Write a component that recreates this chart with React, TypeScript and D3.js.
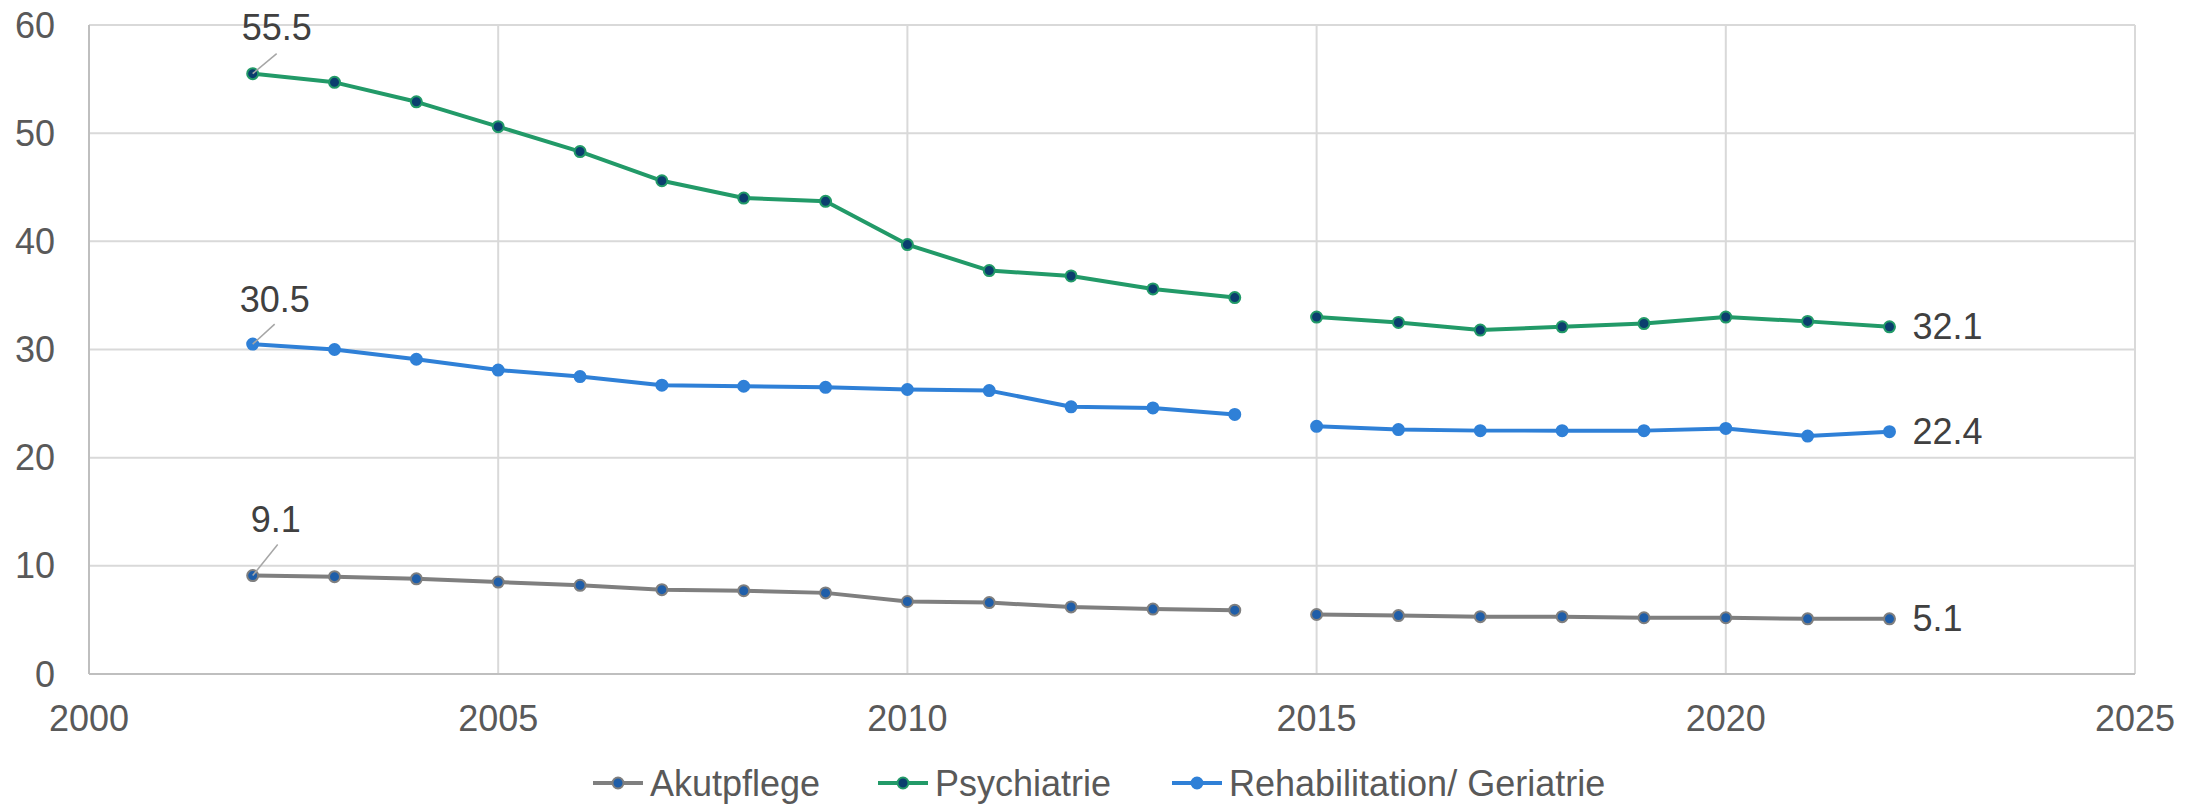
import React from "react";
import * as d3 from "d3";

const years = [2002, 2003, 2004, 2005, 2006, 2007, 2008, 2009, 2010, 2011, 2012, 2013, 2014, 2015, 2016, 2017, 2018, 2019, 2020, 2021, 2022];
const akutpflege = [9.1, 9.0, 8.8, 8.5, 8.2, 7.8, 7.7, 7.5, 6.7, 6.6, 6.2, 6.0, 5.9, 5.5, 5.4, 5.3, 5.3, 5.2, 5.2, 5.1, 5.1];
const psychiatrie = [55.5, 54.7, 52.9, 50.6, 48.3, 45.6, 44.0, 43.7, 39.7, 37.3, 36.8, 35.6, 34.8, 33.0, 32.5, 31.8, 32.1, 32.4, 33.0, 32.6, 32.1];
const rehabilitation = [30.5, 30.0, 29.1, 28.1, 27.5, 26.7, 26.6, 26.5, 26.3, 26.2, 24.7, 24.6, 24.0, 22.9, 22.6, 22.5, 22.5, 22.5, 22.7, 22.0, 22.4];
const seriesNames = ["Akutpflege", "Psychiatrie", "Rehabilitation/ Geriatrie"];
const breakAfterYear = 2014;
const xTicks = [2000, 2005, 2010, 2015, 2020, 2025];
const yTicks = [0, 10, 20, 30, 40, 50, 60];

const W = 2203;
const H = 805;
const FONT = "'Liberation Sans', Arial, Helvetica, sans-serif";

const styles = [
  { line: "#7f7f7f", fill: "#1f5ea9", stroke: "#7f7f7f" },
  { line: "#229a68", fill: "#0b3e6e", stroke: "#229a68" },
  { line: "#2f80d7", fill: "#2f80d7", stroke: "#2f80d7" },
];

// label offsets relative to first point: [leaderDx, leaderDy, labelCx, labelCy]
const firstLabelLayout = [
  [25, -31, 23, -56],
  [24, -20, 24, -46],
  [22, -20, 22, -45],
];
const legendLayout = [618, 903, 1197];

export default function App() {
  const x = d3.scaleLinear().domain([2000, 2025]).range([89, 2135]);
  const y = d3.scaleLinear().domain([0, 60]).range([674, 25]);
  const data = [akutpflege, psychiatrie, rehabilitation];

  const line = d3
    .line<number>()
    .defined((_, i) => true)
    .x((_, i) => x(years[i]))
    .y((v) => y(v));

  const segIdx = years.findIndex((yr) => yr > breakAfterYear);

  return (
    <svg width={W} height={H} style={{ position: "absolute", left: 0, top: 0, background: "#fff" }} fontFamily={FONT}>
      <rect x={0} y={0} width={W} height={H} fill="#fff" />
      {/* grid */}
      {yTicks.map((t) => (
        <line key={"gy" + t} x1={x(2000)} x2={x(2025)} y1={y(t)} y2={y(t)} stroke="#d9d9d9" strokeWidth={2} />
      ))}
      {xTicks.map((t) => (
        <line key={"gx" + t} x1={x(t)} x2={x(t)} y1={y(0)} y2={y(60)} stroke="#d9d9d9" strokeWidth={2} />
      ))}
      <line x1={x(2000)} x2={x(2000)} y1={y(0)} y2={y(60)} stroke="#bfbfbf" strokeWidth={2} />
      <line x1={x(2000)} x2={x(2025)} y1={y(0)} y2={y(0)} stroke="#bfbfbf" strokeWidth={2} />
      {/* y tick labels */}
      {yTicks.map((t) => (
        <text key={"ty" + t} x={55} y={y(t)} dy="0.35em" textAnchor="end" fontSize={36} fill="#595959">
          {t}
        </text>
      ))}
      {xTicks.map((t) => (
        <text key={"tx" + t} x={x(t)} y={731} textAnchor="middle" fontSize={36} fill="#595959">
          {t}
        </text>
      ))}
      {/* series */}
      {data.map((vals, s) => {
        const a = vals.slice(0, segIdx);
        const b = vals.slice(segIdx);
        const lineA = d3.line<number>().x((_, i) => x(years[i])).y((v) => y(v));
        const lineB = d3.line<number>().x((_, i) => x(years[i + segIdx])).y((v) => y(v));
        return (
          <g key={"s" + s}>
            <path d={lineA(a) || ""} fill="none" stroke={styles[s].line} strokeWidth={4} strokeLinejoin="round" />
            <path d={lineB(b) || ""} fill="none" stroke={styles[s].line} strokeWidth={4} strokeLinejoin="round" />
            {vals.map((v, i) => (
              <circle key={i} cx={x(years[i])} cy={y(v)} r={5.5} fill={styles[s].fill} stroke={styles[s].stroke} strokeWidth={2} />
            ))}
          </g>
        );
      })}
      {/* data labels */}
      {data.map((vals, s) => {
        const px = x(years[0]);
        const py = y(vals[0]);
        const L = firstLabelLayout[s];
        const last = vals.length - 1;
        return (
          <g key={"l" + s}>
            <line x1={px} y1={py} x2={px + L[0]} y2={py + L[1]} stroke="#a6a6a6" strokeWidth={1.5} />
            <text x={px + L[2]} y={py + L[3]} dy="0.35em" textAnchor="middle" fontSize={36} fill="#404040">
              {vals[0].toFixed(1)}
            </text>
            <text x={x(years[last]) + 23} y={y(vals[last])} dy="0.35em" textAnchor="start" fontSize={36} fill="#404040">
              {vals[last].toFixed(1)}
            </text>
          </g>
        );
      })}
      {/* legend */}
      {seriesNames.map((n, s) => {
        const cx = legendLayout[s];
        const cy = 783;
        return (
          <g key={"lg" + s}>
            <line x1={cx - 25} x2={cx + 25} y1={cy} y2={cy} stroke={styles[s].line} strokeWidth={4} />
            <circle cx={cx} cy={cy} r={5.5} fill={styles[s].fill} stroke={styles[s].stroke} strokeWidth={2} />
            <text x={cx + 32} y={cy} dy="0.35em" fontSize={36} fill="#595959">
              {n}
            </text>
          </g>
        );
      })}
    </svg>
  );
}
